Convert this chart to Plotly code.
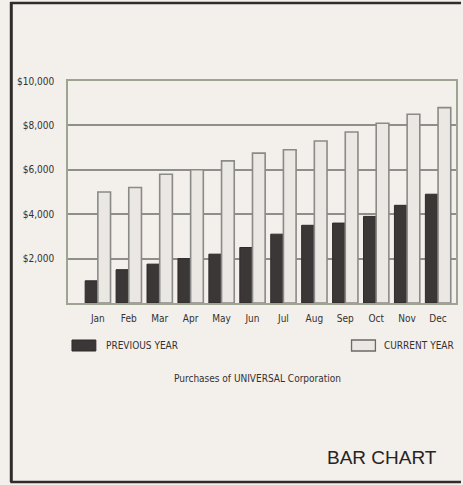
import plotly.graph_objects as go

months = ["Jan", "Feb", "Mar", "Apr", "May", "Jun", "Jul", "Aug", "Sep", "Oct", "Nov", "Dec"]
previous_year = [1000, 1500, 1750, 2000, 2200, 2500, 3100, 3500, 3600, 3900, 4400, 4900]
current_year = [5000, 5200, 5800, 6000, 6400, 6750, 6900, 7300, 7700, 8100, 8500, 8800]
y_ticks = [2000, 4000, 6000, 8000, 10000]
y_tick_labels = ["$2,000", "$4,000", "$6,000", "$8,000", "$10,000"]

PAPER = "#f3efea"
INK = "#353131"
GRID = "#8e8e8a"
FRAME = "#9ea392"
NARROW = "DejaVu Sans Condensed, Liberation Sans Narrow, Arial Narrow, sans-serif"

# plot area in pixels: left 68, right 458, top 81, bottom 303
L, R, T, B = 68, 458, 81, 303
px = lambda v: (v - L) / (R - L)
py = lambda v: (B - v) / (B - T)

fig = go.Figure()
fig.add_trace(go.Bar(
    x=months, y=previous_year, name="PREVIOUS YEAR",
    marker=dict(color="#3b3737", line=dict(color="#2e2b2b", width=1)),
))
fig.add_trace(go.Bar(
    x=months, y=current_year, name="CURRENT YEAR",
    marker=dict(color="#ebe7e3", line=dict(color="#8a8a88", width=1.6)),
))

fig.update_layout(
    width=463, height=485,
    margin=dict(l=L, r=463 - R, t=T, b=485 - B),
    paper_bgcolor=PAPER, plot_bgcolor=PAPER,
    barmode="group", bargap=0.18, bargroupgap=0.0,
    showlegend=False,
    font=dict(family=NARROW, color=INK, size=10),
)
fig.update_xaxes(
    range=[-0.965, 11.58],
    showgrid=False, showline=True, linecolor=FRAME, linewidth=1.5, mirror=True,
    ticks="", tickfont=dict(size=10, family=NARROW, color=INK),
    ticklabelstandoff=5,
)
fig.update_yaxes(
    range=[0, 10000],
    tickvals=y_ticks, ticktext=y_tick_labels,
    showgrid=True, gridcolor=GRID, gridwidth=1.5,
    showline=True, linecolor=FRAME, linewidth=1.5, mirror=True,
    zeroline=False, ticks="",
    tickfont=dict(size=10, family=NARROW, color=INK),
    ticklabelstandoff=10,
)

# legend swatches and labels
fig.add_shape(type="rect", xref="paper", yref="paper",
              x0=px(72), x1=px(96), y0=py(351), y1=py(340),
              fillcolor="#3b3737", line=dict(color="#2e2b2b", width=1))
fig.add_annotation(xref="paper", yref="paper", x=px(104), y=py(345.5),
                   text="PREVIOUS YEAR", showarrow=False, xanchor="left", yanchor="middle",
                   font=dict(size=10, family=NARROW, color=INK))
fig.add_shape(type="rect", xref="paper", yref="paper",
              x0=px(353), x1=px(377), y0=py(351), y1=py(340),
              fillcolor="#ebe7e3", line=dict(color="#6a6a68", width=1.3))
fig.add_annotation(xref="paper", yref="paper", x=px(384), y=py(345.5),
                   text="CURRENT YEAR", showarrow=False, xanchor="left", yanchor="middle",
                   font=dict(size=10, family=NARROW, color=INK))

# caption under the legend
fig.add_annotation(xref="paper", yref="paper", x=px(258), y=py(378),
                   text="Purchases of UNIVERSAL Corporation", showarrow=False,
                   xanchor="center", yanchor="middle",
                   font=dict(size=10, family=NARROW, color=INK))

# panel title
fig.add_annotation(xref="paper", yref="paper", x=px(441), y=py(457),
                   text="BAR CHART", showarrow=False, xanchor="right", yanchor="middle",
                   font=dict(size=19, family="Liberation Sans, Arial, sans-serif", color="#262424"))

# outer frame of the panel (left, top, bottom)
fig.add_shape(type="line", xref="paper", yref="paper",
              x0=px(11), x1=px(11), y0=py(2), y1=py(482),
              line=dict(color="#2f2c2c", width=3))
fig.add_shape(type="line", xref="paper", yref="paper",
              x0=px(10), x1=px(463), y0=py(3), y1=py(3),
              line=dict(color="#2f2c2c", width=2.5))
fig.add_shape(type="line", xref="paper", yref="paper",
              x0=px(10), x1=px(463), y0=py(482), y1=py(482),
              line=dict(color="#2f2c2c", width=2.5))

fig.write_html("out.html")
